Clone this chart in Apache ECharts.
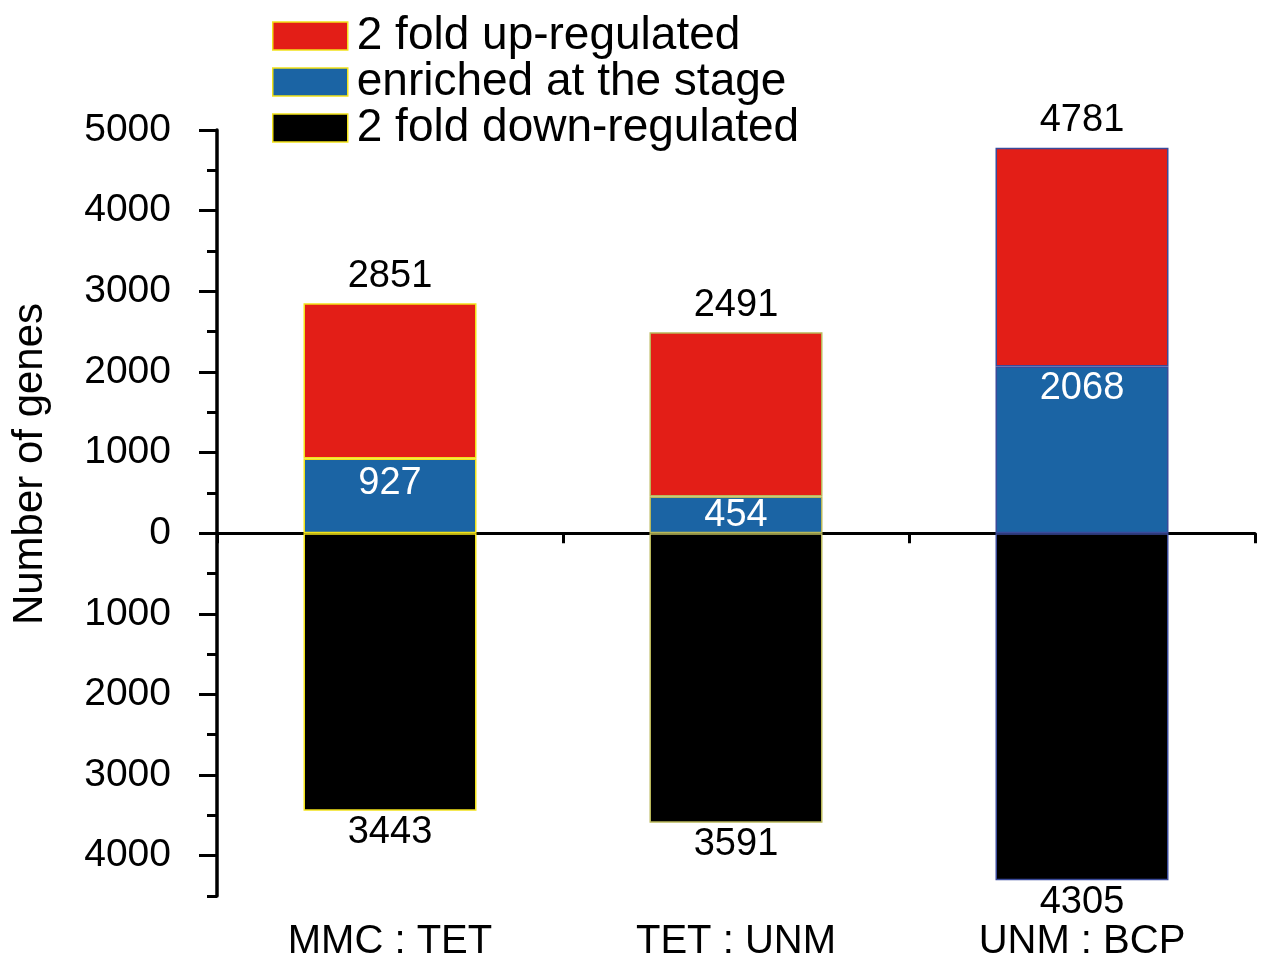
<!DOCTYPE html>
<html>
<head>
<meta charset="utf-8">
<script src="https://cdn.jsdelivr.net/npm/echarts@6/dist/echarts.min.js"></script>
<style>
  html, body { margin: 0; padding: 0; background: #fff; }
  #chart { width: 1267px; height: 976px; }
</style>
</head>
<body>
<div id="chart"></div>
<script>
// data
const categories = ['MMC : TET', 'TET : UNM', 'UNM : BCP']
const upTotals = [2851, 2491, 4781]       // top of the red bar
const enriched = [927, 454, 2068]         // blue part
const downRegulated = [3443, 3591, 4305]  // black bar, drawn below zero
const majorTicks = [-4000, -3000, -2000, -1000, 0, 1000, 2000, 3000, 4000, 5000]
const borderColors = ['#f2e21a', '#b9b85a', '#3a4a9a']
const enrichedLabelGap = [6, 0, 3]

const font = 'Liberation Sans, Arial, sans-serif'

const chart = echarts.init(document.getElementById('chart'))

function withBorder(values, labelGap) {
    return values.map((v, i) => {
        const item = {
            value: v,
            itemStyle: { borderColor: borderColors[i] }
        }
        if (labelGap) item.label = { distance: labelGap[i] }
        return item
    })
}

const option = {
    animation: false,
    textStyle: { fontFamily: font },
    grid: { left: 217, right: 12, top: 130, bottom: 80, containLabel: false },
    legend: {
        orient: 'vertical',
        left: 267,
        top: 8,
        itemWidth: 75,
        itemHeight: 28,
        itemGap: 0,
        icon: 'rect',
        textStyle: { fontSize: 46, color: '#000', fontFamily: font, lineHeight: 40, padding: [0, 0, 0, 4] },
        itemStyle: { borderColor: '#f2e21a', borderWidth: 1.5 },
        data: ['2 fold up-regulated', 'enriched at the stage', '2 fold down-regulated']
    },
    graphic: [{
        type: 'text',
        x: 30,
        y: 464,
        rotation: Math.PI / 2,
        style: {
            text: 'Number of genes',
            font: '42px ' + font,
            fill: '#000',
            align: 'center',
            verticalAlign: 'middle'
        }
    }],
    xAxis: [
        {
            type: 'category',
            data: categories,
            axisLine: { onZero: true, lineStyle: { color: '#000', width: 3 } },
            axisTick: { show: true, length: 10, lineStyle: { color: '#000', width: 3 } },
            axisLabel: { show: false }
        },
        {
            type: 'category',
            data: categories,
            position: 'bottom',
            axisLine: { show: false },
            axisTick: { show: false },
            axisLabel: { color: '#000', fontSize: 40, margin: 26, fontFamily: font }
        }
    ],
    yAxis: [
        {
            type: 'value',
            min: -4500,
            max: 5000,
            interval: 500,
            splitLine: { show: false },
            axisLine: { show: true, lineStyle: { color: '#000', width: 3.5 } },
            axisTick: { show: true, length: 10, lineStyle: { color: '#000', width: 3 } },
            axisLabel: {
                color: '#000',
                fontSize: 39,
                margin: 46,
                fontFamily: font,
                formatter: v => (v % 1000 === 0 ? String(Math.abs(v)) : '')
            }
        },
        {
            type: 'value',
            min: -4500,
            max: 5000,
            interval: 500,
            position: 'left',
            splitLine: { show: false },
            axisLine: { show: false },
            axisTick: { show: true, length: 18, customValues: majorTicks, lineStyle: { color: '#000', width: 3 } },
            axisLabel: { show: false }
        }
    ],
    series: [
        {
            name: 'enriched at the stage',
            type: 'bar',
            stack: 'genes',
            barWidth: '50%',
            data: withBorder(enriched, enrichedLabelGap),
            itemStyle: { color: '#1b64a4', borderColor: '#f2e21a', borderWidth: 1.5 },
            label: {
                show: true,
                position: 'insideTop',
                distance: 6,
                color: '#fff',
                fontSize: 38,
                fontFamily: font
            }
        },
        {
            name: '2 fold up-regulated',
            type: 'bar',
            stack: 'genes',
            barWidth: '50%',
            data: withBorder(upTotals.map((t, i) => t - enriched[i])),
            itemStyle: { color: '#e31e17', borderColor: '#f2e21a', borderWidth: 1.5 },
            label: {
                show: true,
                position: 'top',
                distance: 8,
                color: '#000',
                fontSize: 38,
                fontFamily: font,
                formatter: p => String(upTotals[p.dataIndex])
            }
        },
        {
            name: '2 fold down-regulated',
            type: 'bar',
            stack: 'genes',
            barWidth: '50%',
            data: withBorder(downRegulated.map(v => -v)),
            itemStyle: { color: '#000', borderColor: '#f2e21a', borderWidth: 1.5 },
            label: {
                show: true,
                position: 'bottom',
                distance: 3,
                color: '#000',
                fontSize: 38,
                fontFamily: font,
                formatter: p => String(Math.abs(p.value))
            }
        }
    ]
}

chart.setOption(option)
window.addEventListener('resize', () => {
    chart.resize()
})
</script>
</body>
</html>
